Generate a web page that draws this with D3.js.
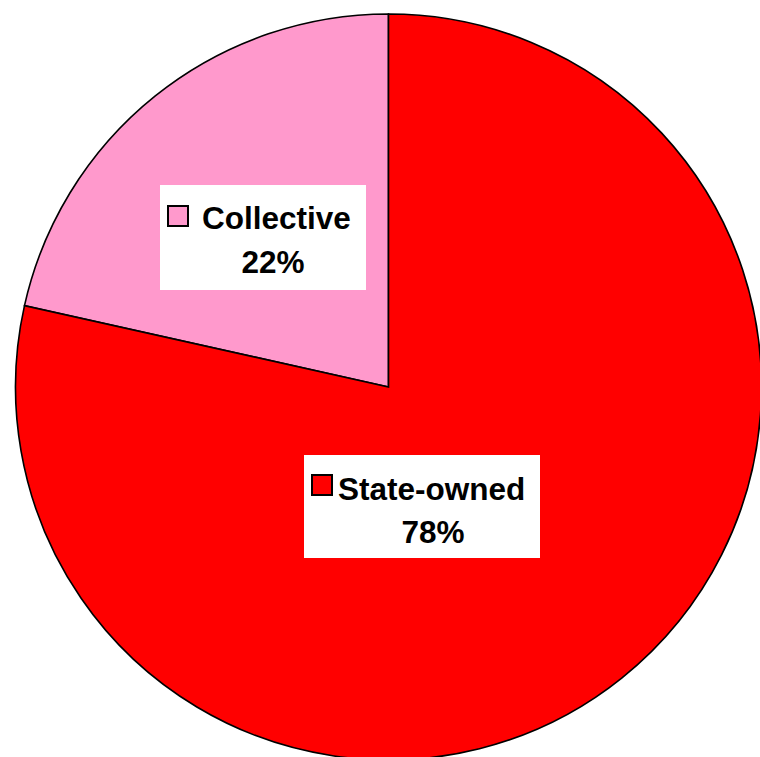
<!DOCTYPE html>
<html>
<head>
<meta charset="utf-8">
<script src="https://cdn.jsdelivr.net/npm/d3@7"></script>
<style>
  body { margin: 0; background: white; }
</style>
</head>
<body>
<div id="chart"></div>
<script>
// data
const categories = ['Collective', 'State-owned'];
const shares = [21.5, 78.5];          // slice sizes as drawn
const pctLabels = ['22%', '78%'];     // labels as printed
const colours = ['#FF99CC', '#FF0000'];

let dim = { 'width': 760, 'height': 757 };
let cx = 388.5, cy = 387, radius = 373;

let svg = d3.select('#chart').append('svg')
    .attr('width', dim.width)
    .attr('height', dim.height)
    .style('display', 'block');

let g = svg.append('g')
    .attr('transform', 'translate(' + cx + ',' + cy + ')');

let rows = categories.map((c, i) => ({ name: c, value: shares[i], label: pctLabels[i], colour: colours[i] }));

// collective goes anticlockwise from 12 o'clock, state-owned fills the rest
let total = d3.sum(shares);
let startA = -2 * Math.PI * shares[0] / total;
let pie = d3.pie()
    .value(d => d.value)
    .sort(null)
    .startAngle(startA)
    .endAngle(startA + 2 * Math.PI);

let arc = d3.arc().innerRadius(0).outerRadius(radius);

g.selectAll('path')
    .data(pie(rows))
    .join('path')
    .attr('d', arc)
    .attr('fill', d => d.data.colour)
    .attr('stroke', 'black')
    .attr('stroke-width', 1.6)
    .attr('stroke-linejoin', 'miter');

// label boxes (positions in page coords)
let labelPos = [
    { box: [160, 185, 206, 105], sq: [168, 206], tx: 202, ty: 229, px: 273, py: 273 },
    { box: [304, 455, 236, 103], sq: [312, 475], tx: 338, ty: 500, px: 433, py: 543 }
];

let lg = svg.append('g');
rows.forEach((d, i) => {
    let p = labelPos[i];
    lg.append('rect')
        .attr('x', p.box[0]).attr('y', p.box[1])
        .attr('width', p.box[2]).attr('height', p.box[3])
        .attr('fill', 'white');
    lg.append('rect')
        .attr('x', p.sq[0]).attr('y', p.sq[1])
        .attr('width', 20).attr('height', 20)
        .attr('fill', d.colour)
        .attr('stroke', 'black')
        .attr('stroke-width', 2);
    lg.append('text')
        .attr('x', p.tx).attr('y', p.ty)
        .attr('font-family', 'Liberation Sans, Arial, sans-serif')
        .attr('font-weight', 'bold')
        .attr('font-size', 31.5)
        .attr('fill', 'black')
        .text(d.name);
    lg.append('text')
        .attr('x', p.px).attr('y', p.py)
        .attr('text-anchor', 'middle')
        .attr('font-family', 'Liberation Sans, Arial, sans-serif')
        .attr('font-weight', 'bold')
        .attr('font-size', 31.5)
        .attr('fill', 'black')
        .text(d.label);
});
</script>
</body>
</html>
